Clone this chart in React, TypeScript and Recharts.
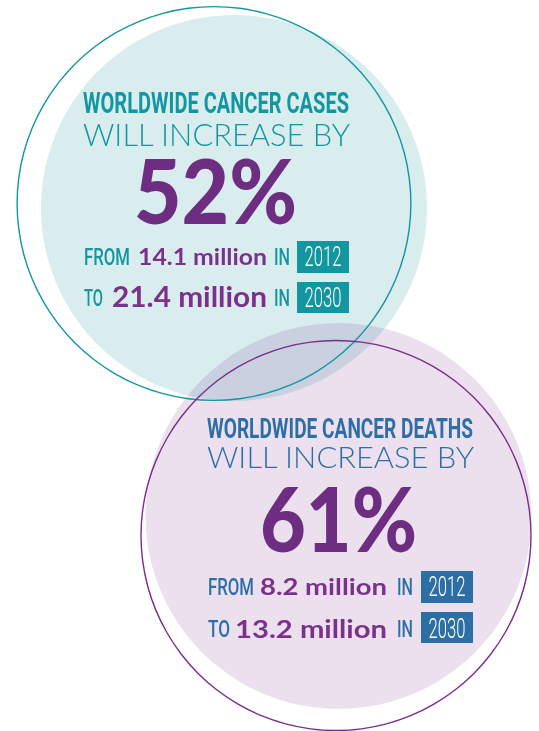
import React from 'react';
import { PieChart, Pie, Cell, Customized } from 'recharts';

// ---- data ----
const metrics = ['WORLDWIDE CANCER CASES', 'WORLDWIDE CANCER DEATHS'];
const increaseText = 'WILL INCREASE BY';
const increasePct = [52, 61];
const from2012 = [14.1, 8.2];
const to2030 = [21.4, 13.2];
const years = ['2012', '2030'];

const casesData = [{ name: 'cases', value: increasePct[0] }];
const deathsData = [{ name: 'deaths', value: increasePct[1] }];

const W = 539;
const H = 731;

const TEAL = '#12969f';
const BLUE = '#2d6fa5';
const PURPLE = '#6d2e81';
const PURPLE2 = '#7b3189';

const COND = "Roboto, 'Noto Sans', sans-serif";
const ROUND = "Lato, 'Noto Sans', sans-serif";

type TP = {
  x: number; y: number; size: number; len: number; fill: string;
  family: string; weight: number; anchor?: 'start' | 'middle' | 'end'; children: React.ReactNode;
};
const T = ({ x, y, size, len, fill, family, weight, anchor = 'start', children }: TP) => (
  <text x={x} y={y} fontSize={size} fontFamily={family} fontWeight={weight} fill={fill}
    textAnchor={anchor} textLength={len} lengthAdjust="spacingAndGlyphs">{children}</text>
);

type Block = {
  i: number; color: string; x0: number; hY: number; hSize: number; wY: number; wSize: number;
  pctX: number; pctY: number; pctLen: number; line1Y: number; line2Y: number;
  numX1: number; numLen1: number; numSize1: number; numX2: number; numLen2: number; numSize2: number;
  inX: number; boxX: number; box1Y: number; box2Y: number; toLen: number;
};

const blocks: Block[] = [
  {
    i: 0, color: TEAL, x0: 83, hY: 113, hSize: 29, wY: 146, wSize: 32,
    pctX: 134, pctY: 224, pctLen: 163, line1Y: 265, line2Y: 306,
    numX1: 138, numLen1: 129, numSize1: 22, numX2: 112, numLen2: 155, numSize2: 28,
    inX: 274, boxX: 297, box1Y: 241, box2Y: 282, toLen: 19,
  },
  {
    i: 1, color: BLUE, x0: 207, hY: 438, hSize: 28, wY: 468, wSize: 29,
    pctX: 260, pctY: 552, pctLen: 157, line1Y: 595, line2Y: 637,
    numX1: 260, numLen1: 127, numSize1: 22, numX2: 235, numLen2: 152, numSize2: 25,
    inX: 397, boxX: 421, box1Y: 571, box2Y: 612, toLen: 22,
  },
];

const Overlay = () => (
  <g>
    {blocks.map((b) => (
      <g key={b.i}>
        <T x={b.x0} y={b.hY} size={b.hSize} len={266} fill={b.color} family={COND} weight={700}>{metrics[b.i]}</T>
        <T x={b.x0} y={b.wY} size={b.wSize} len={267} fill={b.color} family={ROUND} weight={300}>{increaseText}</T>
        <T x={b.pctX} y={b.pctY} size={89} len={b.pctLen} fill={PURPLE} family={ROUND} weight={900}>{`${increasePct[b.i]}%`}</T>
        <T x={b.x0 + 1} y={b.line1Y} size={24} len={46} fill={b.color} family={COND} weight={500}>FROM</T>
        <T x={b.numX1} y={b.line1Y} size={b.numSize1} len={b.numLen1} fill={PURPLE2} family={ROUND} weight={700}>{`${from2012[b.i]} million`}</T>
        <T x={b.inX} y={b.line1Y} size={24} len={16} fill={b.color} family={COND} weight={500}>IN</T>
        <rect x={b.boxX} y={b.box1Y} width={52} height={32} fill={b.color} />
        <T x={b.boxX + 26} y={b.line1Y + 1} size={27} len={37} fill="#ffffff" family={COND} weight={300} anchor="middle">{years[0]}</T>
        <T x={b.x0 + 1} y={b.line2Y} size={24} len={b.toLen} fill={b.color} family={COND} weight={500}>TO</T>
        <T x={b.numX2} y={b.line2Y + 1} size={b.numSize2} len={b.numLen2} fill={PURPLE2} family={ROUND} weight={700}>{`${to2030[b.i]} million`}</T>
        <T x={b.inX} y={b.line2Y} size={24} len={16} fill={b.color} family={COND} weight={500}>IN</T>
        <rect x={b.boxX} y={b.box2Y} width={52} height={31} fill={b.color} />
        <T x={b.boxX + 26} y={b.line2Y + 1} size={27} len={37} fill="#ffffff" family={COND} weight={300} anchor="middle">{years[1]}</T>
      </g>
    ))}
  </g>
);

const layer: React.CSSProperties = { position: 'absolute', left: 0, top: 0 };

export default function App() {
  return (
    <div style={{ position: 'absolute', left: 0, top: 0, width: W, height: H, background: '#fff' }}>
      <style>{`.blend path { mix-blend-mode: multiply; }`}</style>
      <div style={layer}>
        <PieChart width={W} height={H} margin={{ top: 0, right: 0, bottom: 0, left: 0 }}>
          <Pie data={casesData} dataKey="value" cx={234} cy={208} innerRadius={0} outerRadius={193}
            startAngle={90} endAngle={-270} fill="#d9edee" stroke="none" isAnimationActive={false}>
            <Cell fill="#d9edee" />
          </Pie>
          <Pie className="blend" data={deathsData} dataKey="value" cx={338.5} cy={516} innerRadius={0} outerRadius={193}
            startAngle={90} endAngle={-270} fill="#ece0ef" stroke="none" isAnimationActive={false}>
            <Cell fill="#ece0ef" style={{ mixBlendMode: 'multiply' }} />
          </Pie>
          <Pie data={casesData} dataKey="value" cx={214} cy={203.5} innerRadius={196.2} outerRadius={197.6}
            startAngle={90} endAngle={-270} fill={TEAL} stroke="none" isAnimationActive={false}>
            <Cell fill={TEAL} />
          </Pie>
          <Pie data={deathsData} dataKey="value" cx={336} cy={535.5} innerRadius={194.3} outerRadius={195.7}
            startAngle={90} endAngle={-270} fill="#7a2d8a" stroke="none" isAnimationActive={false}>
            <Cell fill="#7a2d8a" />
          </Pie>
        </PieChart>
      </div>
      <div style={{ ...layer, pointerEvents: 'none' }}>
        <PieChart width={W} height={H} margin={{ top: 0, right: 0, bottom: 0, left: 0 }}>
          <Customized component={Overlay} />
        </PieChart>
      </div>
    </div>
  );
}
